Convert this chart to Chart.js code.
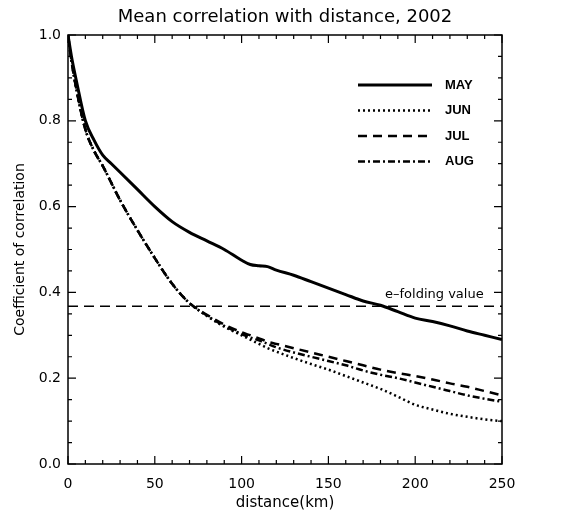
<!DOCTYPE html>
<html>
<head>
<meta charset="utf-8">
<script src="https://cdn.jsdelivr.net/npm/chart.js@4"></script>
<style>
  html, body { margin: 0; padding: 0; background: #fff; }
</style>
</head>
<body>
<canvas id="corrChart" width="569" height="516"></canvas>
<script>
// values, distance in km
var distance = [0, 2, 5, 10, 15, 20, 25, 30, 40, 50, 60, 70, 80, 90, 100, 105, 110, 115, 120, 130, 140, 150, 160, 170, 180, 190, 200, 210, 220, 230, 240, 250];
var may = [1.0, 0.95, 0.89, 0.80, 0.755, 0.72, 0.70, 0.68, 0.64, 0.60, 0.565, 0.54, 0.52, 0.50, 0.475, 0.465, 0.462, 0.46, 0.452, 0.44, 0.425, 0.41, 0.395, 0.38, 0.37, 0.355, 0.34, 0.332, 0.322, 0.31, 0.30, 0.29];
var jun = [1.0, 0.94, 0.87, 0.78, 0.73, 0.695, 0.655, 0.615, 0.545, 0.48, 0.42, 0.375, 0.345, 0.32, 0.30, 0.29, 0.28, 0.27, 0.262, 0.247, 0.233, 0.22, 0.205, 0.19, 0.175, 0.157, 0.138, 0.127, 0.117, 0.11, 0.104, 0.10];
var jul = [1.0, 0.94, 0.87, 0.78, 0.73, 0.695, 0.655, 0.615, 0.545, 0.48, 0.42, 0.375, 0.348, 0.325, 0.307, 0.30, 0.293, 0.285, 0.28, 0.27, 0.26, 0.25, 0.24, 0.23, 0.22, 0.212, 0.205, 0.197, 0.188, 0.18, 0.17, 0.16];
var aug = [1.0, 0.94, 0.87, 0.78, 0.73, 0.695, 0.655, 0.615, 0.545, 0.48, 0.42, 0.375, 0.346, 0.322, 0.303, 0.295, 0.288, 0.28, 0.272, 0.26, 0.25, 0.24, 0.23, 0.218, 0.208, 0.2, 0.19, 0.18, 0.17, 0.16, 0.152, 0.145];
var seriesNames = ['MAY', 'JUN', 'JUL', 'AUG'];
var eFolding = 0.368;
var xRange = [0, 250];
var yRange = [0, 1];

function pts(vals) {
    return distance.map(function (d, i) { return { x: d, y: vals[i] }; });
}

function line(label, vals, dash, width) {
    return {
        label: label,
        data: pts(vals),
        borderColor: '#000',
        borderWidth: width,
        borderDash: dash,
        borderCapStyle: 'butt',
        pointRadius: 0,
        fill: false,
        cubicInterpolationMode: 'monotone'
    };
}

// inward ticks on all four sides + box round the plot
var frame = {
    id: 'frame',
    afterDraw: function (chart) {
        var ctx = chart.ctx, a = chart.chartArea;
        var xs = chart.scales.x, ys = chart.scales.y;
        ctx.save();
        ctx.strokeStyle = '#000';
        ctx.lineWidth = 1.5;
        ctx.setLineDash([]);
        ctx.strokeRect(a.left, a.top, a.right - a.left, a.bottom - a.top);
        ctx.lineWidth = 1.2;
        ctx.beginPath();
        for (var v = xRange[0]; v <= xRange[1]; v += 10) {
            var px = xs.getPixelForValue(v);
            var len = v % 50 === 0 ? 8 : 4;
            ctx.moveTo(px, a.bottom); ctx.lineTo(px, a.bottom - len);
            ctx.moveTo(px, a.top); ctx.lineTo(px, a.top + len);
        }
        for (var k = 0; k <= 20; k++) {
            var py = ys.getPixelForValue(k * 0.05);
            var l2 = k % 4 === 0 ? 8 : 4;
            ctx.moveTo(a.left, py); ctx.lineTo(a.left + l2, py);
            ctx.moveTo(a.right, py); ctx.lineTo(a.right - l2, py);
        }
        ctx.stroke();

        // legend
        ctx.fillStyle = '#000';
        ctx.font = 'bold 13px "Liberation Sans"';
        ctx.textBaseline = 'middle';
        seriesNames.forEach(function (name, i) {
            var ds = chart.data.datasets[i];
            var y = a.top + 50 + i * 25.5;
            ctx.setLineDash(ds.borderDash);
            ctx.lineWidth = ds.borderWidth;
            ctx.beginPath();
            ctx.moveTo(a.left + 290, y);
            ctx.lineTo(a.left + 364, y);
            ctx.stroke();
            ctx.fillText(name, a.left + 377, y);
        });

        // e-folding label
        ctx.font = '13px "DejaVu Sans"';
        ctx.textBaseline = 'alphabetic';
        ctx.fillText('e\u2013folding value', a.right - 117, ys.getPixelForValue(eFolding) - 8);
        ctx.restore();
    }
};

var ctx = document.getElementById('corrChart').getContext('2d');
var corrChart = new Chart(ctx, {
    type: 'line',
    data: {
        datasets: [
            line('MAY', may, [], 3),
            line('JUN', jun, [2, 3], 2.5),
            line('JUL', jul, [9, 6], 2.5),
            line('AUG', aug, [7, 3, 2, 3], 2.5),
            {
                label: 'e-folding',
                data: [{ x: xRange[0], y: eFolding }, { x: xRange[1], y: eFolding }],
                borderColor: '#000',
                borderWidth: 1.5,
                borderDash: [10, 6],
                pointRadius: 0,
                fill: false
            }
        ]
    },
    options: {
        responsive: false,
        animation: false,
        devicePixelRatio: 1,
        layout: { padding: { left: 0, right: 67, top: 0, bottom: 0 } },
        plugins: {
            legend: { display: false },
            tooltip: { enabled: false },
            title: {
                display: true,
                text: 'Mean correlation with distance, 2002',
                fullSize: false,
                color: '#000',
                font: { family: 'DejaVu Sans', size: 18, weight: 'normal', lineHeight: 1.2 },
                padding: { top: 7, bottom: 6.4 }
            }
        },
        scales: {
            x: {
                type: 'linear',
                min: xRange[0],
                max: xRange[1],
                grid: { display: false, drawTicks: false },
                border: { display: false },
                ticks: {
                    stepSize: 50,
                    color: '#000',
                    padding: 12,
                    maxRotation: 0,
                    font: { family: 'DejaVu Sans', size: 14 }
                },
                title: {
                    display: true,
                    text: 'distance(km)',
                    color: '#000',
                    font: { family: 'DejaVu Sans', size: 15, lineHeight: 1.2 },
                    padding: { top: 0, bottom: 4 }
                },
                afterFit: function (s) { s.height = 52; }
            },
            y: {
                min: yRange[0],
                max: yRange[1],
                grid: { display: false, drawTicks: false },
                border: { display: false },
                ticks: {
                    stepSize: 0.2,
                    color: '#000',
                    padding: 7,
                    font: { family: 'DejaVu Sans', size: 14 },
                    callback: function (v) { return v.toFixed(1); }
                },
                title: {
                    display: true,
                    text: 'Coefficient of correlation',
                    color: '#000',
                    font: { family: 'DejaVu Sans', size: 14, lineHeight: 1.2 },
                    padding: { top: 12, bottom: 0 }
                },
                afterFit: function (s) { s.width = 68; }
            }
        }
    },
    plugins: [frame]
});
</script>
</body>
</html>
